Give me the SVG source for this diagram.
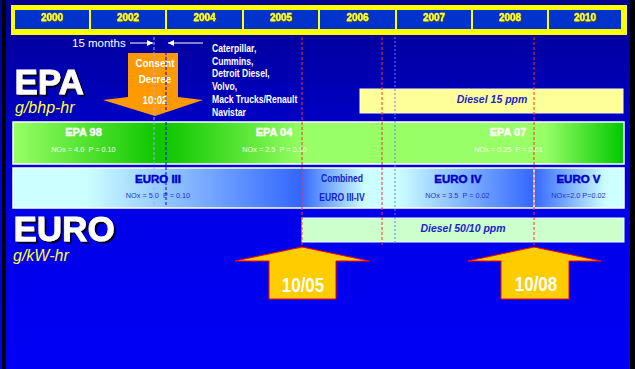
<svg xmlns="http://www.w3.org/2000/svg" width="635" height="369" viewBox="0 0 635 369">
<defs>
<linearGradient id="bg" x1="0" y1="0" x2="0" y2="1">
<stop offset="0" stop-color="#000090"/>
<stop offset="0.55" stop-color="#0000e8"/>
<stop offset="1" stop-color="#0000f5"/>
</linearGradient>
<linearGradient id="gEpa" x1="13" y1="0" x2="624" y2="0" gradientUnits="userSpaceOnUse">
<stop offset="0" stop-color="#99ff66"/>
<stop offset="0.23" stop-color="#11c800"/>
<stop offset="0.255" stop-color="#11c800"/>
<stop offset="0.48" stop-color="#99ff66"/>
<stop offset="0.87" stop-color="#99ff66"/>
<stop offset="1" stop-color="#00c800"/>
</linearGradient>
<linearGradient id="gEuro" x1="13" y1="0" x2="624" y2="0" gradientUnits="userSpaceOnUse">
<stop offset="0" stop-color="#ccffff"/>
<stop offset="0.12" stop-color="#ccffff"/>
<stop offset="0.47" stop-color="#3366ff"/>
<stop offset="0.575" stop-color="#ccffff"/>
<stop offset="0.63" stop-color="#ccffff"/>
<stop offset="0.852" stop-color="#3366ff"/>
<stop offset="0.97" stop-color="#ccffff"/>
<stop offset="1" stop-color="#ccffff"/>
</linearGradient>
<filter id="sh" x="-10%" y="-10%" width="130%" height="140%">
<feDropShadow dx="2" dy="2" stdDeviation="0" flood-color="#000022" flood-opacity="1"/>
</filter>
<filter id="shy" x="-10%" y="-20%" width="130%" height="150%">
<feDropShadow dx="0.8" dy="0.8" stdDeviation="0" flood-color="#555500" flood-opacity="1"/>
</filter>
<marker id="ah" viewBox="0 0 6 6" refX="6" refY="3" markerWidth="6" markerHeight="6" orient="auto" markerUnits="userSpaceOnUse">
<path d="M0,0 L6,3 L0,6 z" fill="#ffffff"/>
</marker>
</defs>
<style>
.yr{font-family:"Liberation Sans",Arial,sans-serif;font-weight:bold;font-size:10px;fill:#ffff33;text-anchor:middle;stroke:#ffff33;stroke-width:0.3}
.cell{fill:#0033cc}
.big{font-family:"Liberation Sans",Arial,sans-serif;font-weight:bold;font-size:35px;fill:#ffffff;stroke:#ffffff;stroke-width:0.8}
.unit{font-family:"Liberation Sans",Arial,sans-serif;font-style:italic;font-size:16px;fill:#ffff33}
.co{font-family:"Liberation Sans",Arial,sans-serif;font-weight:bold;font-size:11px;fill:#ffffff}
.wb{font-family:"Liberation Sans",Arial,sans-serif;font-weight:bold;font-size:11px;fill:#ffffff;text-anchor:middle;stroke:#ffffff;stroke-width:0.4}
.bb{font-family:"Liberation Sans",Arial,sans-serif;font-weight:bold;font-size:11.5px;fill:#0000cc;text-anchor:middle;stroke:#0000cc;stroke-width:0.5}
.nw{font-family:"Liberation Sans",Arial,sans-serif;font-size:7.3px;fill:#eeffee;text-anchor:middle;white-space:pre}
.nb{font-family:"Liberation Sans",Arial,sans-serif;font-size:7.3px;fill:#2233cc;text-anchor:middle;white-space:pre}
.cb{font-family:"Liberation Sans",Arial,sans-serif;font-weight:bold;font-size:10.5px;fill:#1122cc;text-anchor:middle}
.dz{font-family:"Liberation Sans",Arial,sans-serif;font-weight:bold;font-style:italic;font-size:10.5px;fill:#2222cc;text-anchor:middle}
.arw{fill:#ffcc00;stroke:#ff0000;stroke-width:1}
.arl{font-family:"Liberation Sans",Arial,sans-serif;font-weight:bold;font-size:20px;fill:#ffffff;text-anchor:middle}
.cd{font-family:"Liberation Sans",Arial,sans-serif;font-weight:bold;font-size:11.5px;fill:#ffffff;text-anchor:middle}
.red{stroke:#ff3322;stroke-width:1;stroke-dasharray:3 2;fill:none}
</style>
<rect width="635" height="369" fill="url(#bg)"/>
<rect x="2" y="0" width="4" height="369" fill="#000000"/>
<rect x="630" y="0" width="5" height="369" fill="#000000"/>

<g id="timeline">
<rect x="11" y="5" width="616" height="30" fill="#ffff00"/>
<rect class="cell" x="15" y="10" width="74" height="19"/>
<rect class="cell" x="91" y="10" width="74" height="19"/>
<rect class="cell" x="167" y="10" width="75" height="19"/>
<rect class="cell" x="244" y="10" width="74" height="19"/>
<rect class="cell" x="320" y="10" width="75" height="19"/>
<rect class="cell" x="397" y="10" width="74" height="19"/>
<rect class="cell" x="473" y="10" width="74" height="19"/>
<rect class="cell" x="549" y="10" width="72" height="19"/>
<g filter="url(#shy)">
<text class="yr" x="52" y="21">2000</text><text class="yr" x="128" y="21">2002</text><text class="yr" x="204.5" y="21">2004</text><text class="yr" x="281" y="21">2005</text><text class="yr" x="357.5" y="21">2006</text><text class="yr" x="434" y="21">2007</text><text class="yr" x="510" y="21">2008</text><text class="yr" x="585" y="21">2010</text>
</g>
</g>

<g id="epa-title">
<text class="big" x="14.5" y="94" filter="url(#sh)">EPA</text>
<text class="unit" x="15" y="113">g/bhp-hr</text>
</g>

<g id="euro-title">
<text class="big" x="13.5" y="241" filter="url(#sh)">EURO</text>
<text class="unit" x="13" y="261">g/kW-hr</text>
</g>

<g id="months">
<text x="72" y="47" font-family="Liberation Sans, Arial, sans-serif" font-size="11.5" fill="#ffffff">15 months</text>
</g>

<g id="companies" transform="translate(212,0) scale(0.78,1)">
<text class="co" x="0" y="52">Caterpillar,</text>
<text class="co" x="0" y="65">Cummins,</text>
<text class="co" x="0" y="77.5">Detroit Diesel,</text>
<text class="co" x="0" y="90.5">Volvo,</text>
<text class="co" x="0" y="103">Mack Trucks/Renault</text>
<text class="co" x="0" y="116">Navistar</text>
</g>

<g id="consent-decree">
<polygon points="128,53 178,53 178,97 203,100 155,116 103,100 128,97" fill="#ff9900"/>
<g transform="translate(155,0) scale(0.85,1)">
<text class="cd" x="0" y="67">Consent</text>
<text class="cd" x="0" y="83">Decree</text>
<text class="cd" x="0" y="104">10:02</text>
</g>
</g>

<g id="diesel15">
<rect x="360" y="89" width="263" height="24" fill="#ffff99" stroke="#ffffcc" stroke-width="1"/>
<text class="dz" x="492" y="103">Diesel 15 ppm</text>
</g>

<g id="epa-row">
<rect x="13" y="122" width="611" height="42" fill="url(#gEpa)" stroke="#ffffff" stroke-width="1.5"/>
<text class="wb" x="83.5" y="136">EPA 98</text>
<text class="nw" x="83.5" y="152">NOx = 4.0  P = 0.10</text>
<text class="wb" x="274" y="136">EPA 04</text>
<text class="nw" x="274.5" y="152">NOx = 2.5  P = 0.10</text>
<text class="wb" x="508" y="136">EPA 07</text>
<text class="nw" x="508.5" y="152">NOx = 0.25  P = 0.01</text>
</g>

<g id="euro-row">
<rect x="13" y="168" width="611" height="40" fill="url(#gEuro)" stroke="#ffffff" stroke-width="1.5"/>
<line x1="534" y1="168" x2="534" y2="208" stroke="#ffffff" stroke-width="1.5"/>
<text class="bb" x="158" y="183">EURO III</text>
<text class="nb" x="158" y="198">NOx = 5.0  P = 0.10</text>
<g transform="translate(342,0) scale(0.82,1)">
<text class="cb" x="0" y="182.5">Combined</text>
<text class="cb" x="0" y="201">EURO III-IV</text>
</g>
<text class="bb" x="458" y="183">EURO IV</text>
<text class="nb" x="457.5" y="198">NOx = 3.5  P = 0.02</text>
<text class="bb" x="578.5" y="183">EURO V</text>
<text class="nb" x="578.5" y="198">NOx=2.0 P=0.02</text>
</g>

<g id="diesel50">
<rect x="302" y="218" width="322" height="24" fill="#ccffcc" stroke="#eeffee" stroke-width="1"/>
<text class="dz" x="463" y="232">Diesel 50/10 ppm</text>
</g>

<g id="connectors">
<line x1="130" y1="43" x2="153" y2="43" stroke="#ffffff" stroke-width="1" marker-end="url(#ah)"/>
<line x1="203" y1="43" x2="168" y2="43" stroke="#ffffff" stroke-width="1" marker-end="url(#ah)"/>
<line x1="154" y1="37" x2="154" y2="207" stroke="#aaaaff" stroke-width="1" stroke-dasharray="3 2"/>
<line x1="166" y1="37" x2="166" y2="207" stroke="#0000dd" stroke-width="1" stroke-dasharray="3 2"/>
<line class="red" x1="302" y1="37" x2="302" y2="247"/>
<line class="red" x1="382" y1="37" x2="382" y2="247"/>
<line x1="395" y1="37" x2="395" y2="242" stroke="#7777ff" stroke-width="1" stroke-dasharray="2 2"/>
<line class="red" x1="534" y1="37" x2="534" y2="247"/>
</g>

<g id="arrow-1005">
<polygon class="arw" points="302,247 369,261 336,261 336,299 269,299 269,261 235,261"/>
<text class="arl" x="0" y="292" transform="translate(303,0) scale(0.85,1)">10/05</text>
</g>

<g id="arrow-1008">
<polygon class="arw" points="534,247 601,261 569,261 569,299 501,299 501,261 468,261"/>
<text class="arl" x="0" y="291" transform="translate(536,0) scale(0.85,1)">10/08</text>
</g>
</svg>
